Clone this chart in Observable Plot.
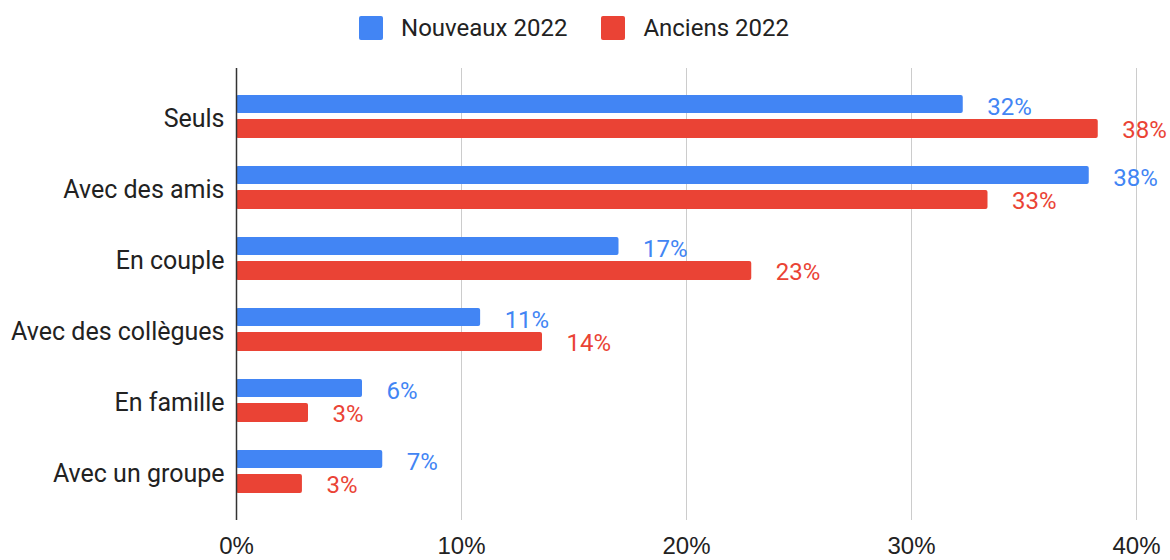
<!DOCTYPE html>
<html><head><meta charset="utf-8">
<script src="https://cdn.jsdelivr.net/npm/d3@7"></script>
<script src="https://cdn.jsdelivr.net/npm/@observablehq/plot@0.6"></script>
<style>
html,body{margin:0;padding:0;background:#fff;font-family:Roboto,sans-serif;}
#legend{height:56px;display:flex;justify-content:center;align-items:center;gap:34px;font-size:24px;color:#222;padding-right:22px;box-sizing:border-box;}
.item{display:flex;align-items:center;gap:18px;}
.sw{width:24px;height:24px;border-radius:2px;display:inline-block;}
</style></head>
<body>
<div id="legend"></div>
<div id="chart"></div>
<script>
const categories = ["Seuls","Avec des amis","En couple","Avec des collègues","En famille","Avec un groupe"];
const seriesNames = ["Nouveaux 2022","Anciens 2022"];
const nouveaux = [32.3, 37.9, 17.0, 10.85, 5.6, 6.5];
const anciens = [38.3, 33.4, 22.9, 13.6, 3.2, 2.93];
const colors = ["#4285F4","#EA4335"];
const xTicks = [0,10,20,30,40];

const leg = document.getElementById("legend");
seriesNames.forEach((s,i)=>{
  const it=document.createElement("div");it.className="item";
  it.innerHTML=`<span class="sw" style="background:${colors[i]}"></span><span>${s}</span>`;
  leg.appendChild(it);
});

const dN = categories.map((c,i)=>({category:c, value:nouveaux[i]}));
const dA = categories.map((c,i)=>({category:c, value:anciens[i]}));

const chart = Plot.plot({
  width:1170, height:504,
  marginTop:12, marginBottom:40, marginLeft:236, marginRight:34,
  style:{fontFamily:"Roboto, sans-serif", fontSize:"24px", color:"#222", background:"#fff", overflow:"visible"},
  x:{domain:[0,40], ticks:xTicks, tickFormat:d=>d+"%", label:null},
  y:{domain:categories, padding:0, paddingOuter:0.139, label:null},
  marks:[
    Plot.ruleX(xTicks.filter(t=>t>0), {stroke:"#ccc", strokeWidth:1}),
    Plot.axisX({ticks:xTicks, tickFormat:d=>d+"%", tickSize:0, tickPadding:16, fontSize:24, fontFamily:"'Liberation Sans', Arial, sans-serif", fill:"#222", label:null}),
    Plot.axisY({tickSize:0, tickPadding:12, dy:2, fontSize:25, fill:"#222", label:null}),
    Plot.barX(dN, {x:"value", y:"category", fill:colors[0], insetTop:14, insetBottom:39, rx:2}),
    Plot.barX(dA, {x:"value", y:"category", fill:colors[1], insetTop:38, insetBottom:14, rx:2}),
    Plot.text(dN, {x:"value", y:"category", text:d=>Math.round(d.value)+"%", dx:24, dy:-10, textAnchor:"start", fill:colors[0], fontSize:24}),
    Plot.text(dA, {x:"value", y:"category", text:d=>Math.round(d.value)+"%", dx:24, dy:13, textAnchor:"start", fill:colors[1], fontSize:24}),
    Plot.ruleX([0], {stroke:"#333", strokeWidth:1.5})
  ]
});
document.getElementById("chart").appendChild(chart);
</script>
</body></html>
